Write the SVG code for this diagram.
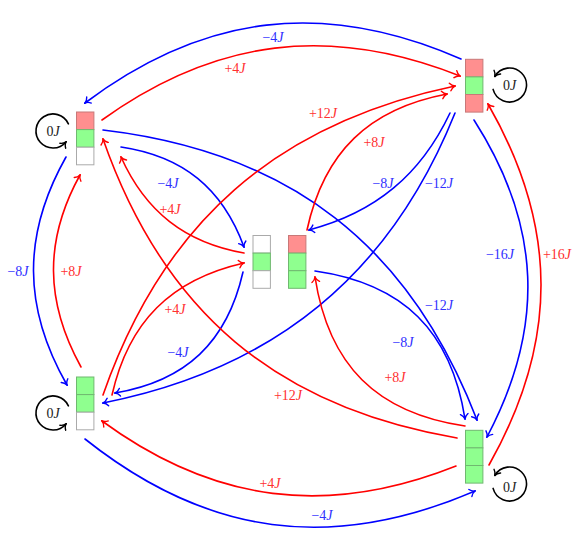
<svg xmlns="http://www.w3.org/2000/svg" width="576" height="551" viewBox="0 0 576 551">
<style>
.c{fill:none;stroke-width:1.6;stroke-linecap:round}
.b{stroke:#0000ff;marker-end:url(#ab)}
.r{stroke:#ff0000;marker-end:url(#ar)}
.k{stroke:#000;marker-end:url(#ak)}
.cr{fill:#ff8f8f;stroke:#c87878;stroke-width:1}
.cg{fill:#8fff8f;stroke:#70b870;stroke-width:1}
.cw{fill:#fff;stroke:#aaa;stroke-width:1}
text{font-family:"Liberation Serif","DejaVu Serif",serif;font-size:14px;text-anchor:middle;dominant-baseline:central}
.tb{fill:#3030ff}.tr{fill:#ff3030}.tk{fill:#222}
.i{font-style:italic}
</style>
<defs>
<marker id="ab" markerUnits="userSpaceOnUse" viewBox="-6 -5 7 10" refX="0" refY="0" markerWidth="7" markerHeight="10" orient="auto"><path d="M-5,-3.8 C-3.5,-1.5 -1.5,-0.4 0,0 C-1.5,0.4 -3.5,1.5 -5,3.8" fill="none" stroke="#0000ff" stroke-width="1.4" stroke-linecap="round"/></marker>
<marker id="ar" markerUnits="userSpaceOnUse" viewBox="-6 -5 7 10" refX="0" refY="0" markerWidth="7" markerHeight="10" orient="auto"><path d="M-5,-3.8 C-3.5,-1.5 -1.5,-0.4 0,0 C-1.5,0.4 -3.5,1.5 -5,3.8" fill="none" stroke="#ff0000" stroke-width="1.4" stroke-linecap="round"/></marker>
<marker id="ak" markerUnits="userSpaceOnUse" viewBox="-6 -5 7 10" refX="0" refY="0" markerWidth="7" markerHeight="10" orient="auto"><path d="M-5,-3.8 C-3.5,-1.5 -1.5,-0.4 0,0 C-1.5,0.4 -3.5,1.5 -5,3.8" fill="none" stroke="#000" stroke-width="1.4" stroke-linecap="round"/></marker>
</defs>
<g id="connectors">
<path class="c b" d="M461,59 C324.5,-0.6 204.1,13.6 85,103"/>
<path class="c r" d="M102,120 C215.5,38.5 330.1,24.5 460,76"/>
<path class="c b" d="M66,157 C22.3,234.5 22.7,307.5 67,385"/>
<path class="c r" d="M81,367 C45,301.7 44,240.3 80,175"/>
<path class="c b" d="M85,439 C207,536 331.8,552.6 475,491"/>
<path class="c r" d="M456,466 C327.3,517.2 213.9,502.8 102,421"/>
<path class="c b" d="M474,120 C541.3,225.2 545.5,326.6 487,437"/>
<path class="c r" d="M489,465 C558.6,342.1 558.4,226.5 488,104"/>
<path class="c b" d="M103,130 C289.6,152 409.4,244.8 477,420"/>
<path class="c b" d="M315,271 C403.2,283.6 451.2,331 465,419"/>
<path class="c b" d="M121,147 C183,156.2 222.4,188.2 244,247"/>
<path class="c r" d="M244,253 C185,242.5 145.6,211.7 121,157"/>
<path class="c r" d="M112,395 C128.6,321.8 170.8,279.6 244,263"/>
<path class="c b" d="M243,272 C227,342.3 186,380.9 115,393"/>
<path class="c b" d="M455,113 C390,275 273.8,369.3 103,403"/>
<path class="c b" d="M450,113 C420.5,175.1 375.5,212.5 309,230"/>
<path class="c r" d="M457,438 C276.6,407.4 163.4,311.8 103,139"/>
<path class="c r" d="M465,426 C376.6,412.9 328.6,365.3 315,277"/>
<path class="c r" d="M103,395 C163.2,222.3 276,123.5 455,86"/>
<path class="c r" d="M307,230 C323.9,152.2 368.7,108.8 447,94"/>
<path class="c k" d="M68.4,123.8 A17,17 0 1 0 66,141.9"/>
<path class="c k" d="M493.1,89.4 A17,17 0 1 0 494.8,76.5"/>
<path class="c k" d="M68.4,405.8 A17,17 0 1 0 66,423.9"/>
<path class="c k" d="M493.1,488.4 A17,17 0 1 0 494.8,475.5"/>
</g>
<g id="labels">
<text class="tb" x="273" y="37">−4<tspan class="i">J</tspan></text>
<text class="tr" x="235" y="68">+4<tspan class="i">J</tspan></text>
<text class="tr" x="323" y="113">+12<tspan class="i">J</tspan></text>
<text class="tr" x="374" y="142">+8<tspan class="i">J</tspan></text>
<text class="tb" x="168" y="183">−4<tspan class="i">J</tspan></text>
<text class="tr" x="170" y="209">+4<tspan class="i">J</tspan></text>
<text class="tb" x="383" y="183">−8<tspan class="i">J</tspan></text>
<text class="tb" x="439" y="183">−12<tspan class="i">J</tspan></text>
<text class="tb" x="500" y="254">−16<tspan class="i">J</tspan></text>
<text class="tr" x="557" y="254">+16<tspan class="i">J</tspan></text>
<text class="tb" x="18" y="271">−8<tspan class="i">J</tspan></text>
<text class="tr" x="71" y="271">+8<tspan class="i">J</tspan></text>
<text class="tr" x="175" y="309">+4<tspan class="i">J</tspan></text>
<text class="tb" x="439" y="305">−12<tspan class="i">J</tspan></text>
<text class="tb" x="403" y="342">−8<tspan class="i">J</tspan></text>
<text class="tb" x="178" y="352">−4<tspan class="i">J</tspan></text>
<text class="tr" x="395" y="377">+8<tspan class="i">J</tspan></text>
<text class="tr" x="288" y="395">+12<tspan class="i">J</tspan></text>
<text class="tr" x="270" y="483">+4<tspan class="i">J</tspan></text>
<text class="tb" x="322" y="515">−4<tspan class="i">J</tspan></text>
<text class="tk" x="53" y="131">0<tspan class="i">J</tspan></text>
<text class="tk" x="509.5" y="85">0<tspan class="i">J</tspan></text>
<text class="tk" x="53" y="413">0<tspan class="i">J</tspan></text>
<text class="tk" x="509.5" y="487">0<tspan class="i">J</tspan></text>
</g>
<g id="node-tl">
<rect class="cr" x="76.5" y="112" width="17.4" height="17.6"/>
<rect class="cg" x="76.5" y="129.6" width="17.4" height="17.6"/>
<rect class="cw" x="76.5" y="147.2" width="17.4" height="17.6"/>
</g>
<g id="node-tr">
<rect class="cr" x="465.5" y="59.3" width="17.4" height="17.6"/>
<rect class="cg" x="465.5" y="76.9" width="17.4" height="17.6"/>
<rect class="cr" x="465.5" y="94.5" width="17.4" height="17.6"/>
</g>
<g id="node-cl">
<rect class="cw" x="253" y="235.5" width="17.4" height="17.6"/>
<rect class="cg" x="253" y="253.1" width="17.4" height="17.6"/>
<rect class="cw" x="253" y="270.7" width="17.4" height="17.6"/>
</g>
<g id="node-cr">
<rect class="cr" x="288.5" y="235.5" width="17.4" height="17.6"/>
<rect class="cg" x="288.5" y="253.1" width="17.4" height="17.6"/>
<rect class="cg" x="288.5" y="270.7" width="17.4" height="17.6"/>
</g>
<g id="node-bl">
<rect class="cg" x="76.5" y="377" width="17.4" height="17.6"/>
<rect class="cg" x="76.5" y="394.6" width="17.4" height="17.6"/>
<rect class="cw" x="76.5" y="412.2" width="17.4" height="17.6"/>
</g>
<g id="node-br">
<rect class="cg" x="465.5" y="430.3" width="17.4" height="17.6"/>
<rect class="cg" x="465.5" y="447.9" width="17.4" height="17.6"/>
<rect class="cg" x="465.5" y="465.5" width="17.4" height="17.6"/>
</g>
</svg>
